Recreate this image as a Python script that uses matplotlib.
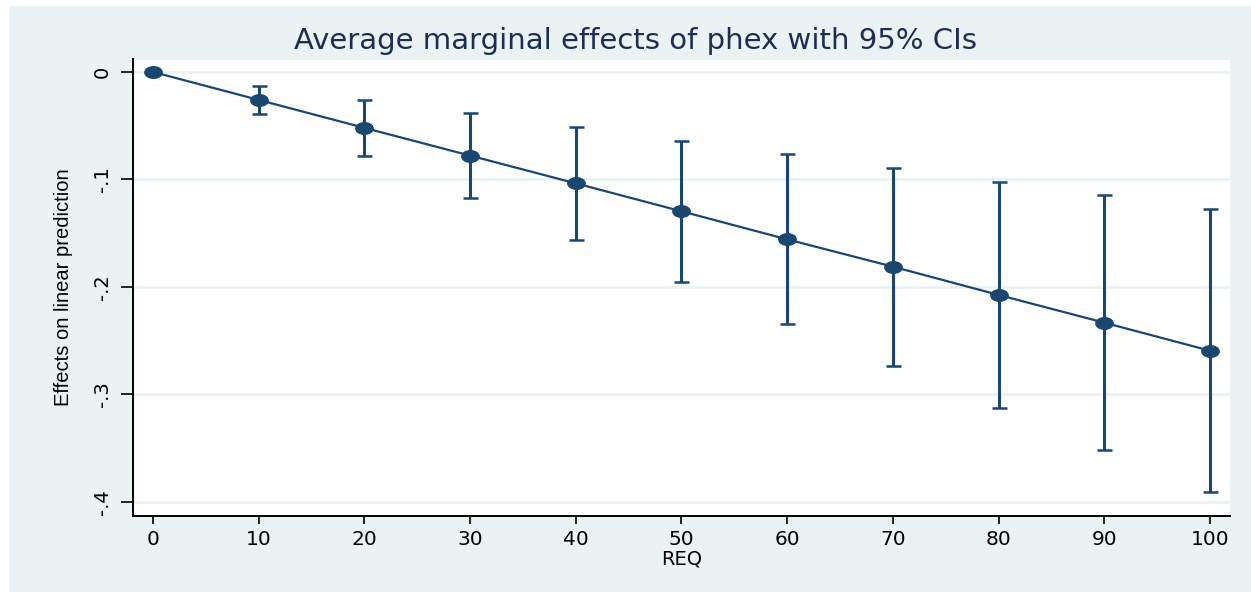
import matplotlib
matplotlib.use("Agg")
import matplotlib.pyplot as plt
from matplotlib.patches import Rectangle
from matplotlib.path import Path
from matplotlib.transforms import Affine2D


# =====================================================
# DATA
# =====================================================

req = [0, 10, 20, 30, 40, 50, 60, 70, 80, 90, 100]

effect = [0.0, -0.0260, -0.0520, -0.0778, -0.1036, -0.1296,
          -0.1557, -0.1811, -0.2074, -0.2332, -0.2593]

ci_hi = [0.0, -0.0127, -0.0258, -0.0381, -0.0509, -0.0639,
         -0.0763, -0.0896, -0.1023, -0.1147, -0.1277]

ci_lo = [0.0, -0.0388, -0.0781, -0.1169, -0.1563, -0.1953,
         -0.2344, -0.2735, -0.3123, -0.3516, -0.3904]

x_ticks = [0, 10, 20, 30, 40, 50, 60, 70, 80, 90, 100]
y_ticks = [0, -0.1, -0.2, -0.3, -0.4]
y_tick_labels = ["0", "-.1", "-.2", "-.3", "-.4"]

TITLE = "Average marginal effects of phex with 95% CIs"


# =====================================================
# STYLE
# =====================================================

NAVY = "#1a476f"
BG = "#eaf2f3"
TITLE_COLOR = "#1c2e52"

# stretched ellipse marker, like the stata export
ellipse = Path.unit_circle().transformed(Affine2D().scale(1.5, 1.0))


# =====================================================
# PLOT
# =====================================================

fig = plt.figure(figsize=(12.51, 5.92), dpi=100)
fig.patch.set_facecolor("white")

fig.patches.append(
    Rectangle(
        (9 / 1251, 0),
        1 - 9 / 1251,
        1 - 6 / 592,
        transform=fig.transFigure,
        facecolor=BG,
        edgecolor="none",
        zorder=-10
    )
)

ax = fig.add_axes([133 / 1251, 1 - 515.5 / 592,
                   (1230 - 133) / 1251, (515.5 - 59.5) / 592])
ax.set_facecolor("white")

yerr_lo = [e - lo for e, lo in zip(effect, ci_lo)]
yerr_hi = [hi - e for e, hi in zip(effect, ci_hi)]

ax.errorbar(
    req[1:],
    effect[1:],
    yerr=[yerr_lo[1:], yerr_hi[1:]],
    fmt="none",
    ecolor=NAVY,
    elinewidth=2.2,
    capsize=5.4,
    capthick=1.8,
    zorder=3
)

ax.plot(
    req,
    effect,
    color=NAVY,
    linewidth=1.6,
    marker=ellipse,
    markersize=12.5,
    markerfacecolor=NAVY,
    markeredgecolor=NAVY,
    zorder=4
)

ax.set_xlim(-1.89, 101.9)
ax.set_ylim(-0.4126, 0.0116)

ax.set_yticks(y_ticks)
ax.set_yticklabels(
    y_tick_labels,
    rotation=90,
    va="center",
    fontsize=14,
    fontfamily="DejaVu Sans"
)
ax.set_xticks(x_ticks)
ax.set_xticklabels(
    [str(v) for v in x_ticks],
    fontsize=14.5,
    fontfamily="DejaVu Sans"
)

ax.grid(axis="y", color=BG, linewidth=2, zorder=0)
ax.grid(axis="x", visible=False)
ax.set_axisbelow(True)

for side in ["top", "right"]:
    ax.spines[side].set_visible(False)
for side in ["left", "bottom"]:
    ax.spines[side].set_linewidth(1.4)
    ax.spines[side].set_color("black")

ax.tick_params(axis="y", length=9, width=1.2, pad=6)
ax.tick_params(axis="x", length=5.5, width=1.2, pad=5)

ax.set_xlabel("REQ", fontsize=14, fontfamily="DejaVu Sans", labelpad=0.5)
ax.set_ylabel(
    "Effects on linear prediction",
    fontsize=14.5,
    fontfamily="Liberation Sans",
    labelpad=14.5
)

fig.text(
    635 / 1251,
    1 - 41 / 592,
    TITLE,
    ha="center",
    va="center",
    fontsize=21,
    color=TITLE_COLOR,
    fontfamily="DejaVu Sans"
)

fig.savefig("out.png", dpi=100, facecolor=fig.get_facecolor())
